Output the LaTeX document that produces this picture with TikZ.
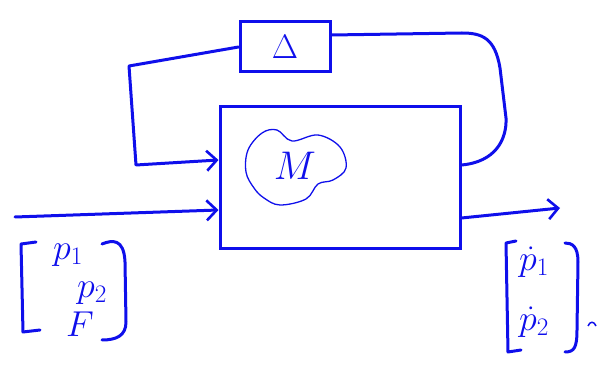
\documentclass[tikz,border=0pt]{standalone}
\usepackage{fix-cm}
\usetikzlibrary{arrows.meta}

\definecolor{ink}{RGB}{15,15,235}

\tikzset{
  wire/.style={ink, line width=3pt, line cap=round, line join=round},
  tip/.style={-{Straight Barb[length=10pt,width=20pt,line width=2.6pt]}},
  blk/.style={draw=ink, line width=3pt, inner sep=0pt},
  entry/.style={ink, inner sep=0pt, font=\fontsize{36}{38}\selectfont},
}

\begin{document}
\begin{tikzpicture}[x=1pt, y=-1pt]
  \useasboundingbox (0,0) rectangle (598,371);

  % plant and uncertainty blocks
  \node[blk, minimum width=240, minimum height=142] (sys) at (340,178) {};
  \node[blk, minimum width=90, minimum height=50, ink,
        font=\fontsize{34}{36}\selectfont] (delta) at (285,47) {$\Delta$};

  % model inside the plant
  \node[ink, font=\fontsize{40}{42}\selectfont] (m) at (295,166) {$M$};
  \draw[ink, line width=1.3pt] plot[smooth cycle, tension=0.6] coordinates
    {(248,150) (262,133) (277,130) (292,141) (318,135) (340,147) (346,168)
     (333,180) (318,184) (306,199) (280,205) (264,198) (254,188) (246,172)};

  % feedback loop through Delta
  \draw[wire] ([yshift=13pt]sys.east) .. controls (495,162) and (507,140) .. (506,118)
    -- (500,68) .. controls (495,38) and (482,33) .. (462,33) -- ([yshift=12pt]delta.east);
  \draw[wire, tip] (delta.west) -- (129,66) -- (136,165) -- ([yshift=18pt]sys.west);

  % inputs and outputs
  \coordinate (in) at (15,217);
  \coordinate (out) at (560,208);
  \draw[wire, tip] (in) -- ([yshift=-32pt]sys.west);
  \draw[wire, tip] ([yshift=-40pt]sys.east) -- (out);

  % input vector
  \node[entry] (p1) at (68,255) {$p_1$};
  \node[entry] (p2) at (92,293) {$p_2$};
  \node[entry] (f)  at (80,324) {$F$};
  \draw[wire] (36,242) -- (21,244) -- (23,332) -- (40,330);
  \draw[wire] (102,244) .. controls (112,240) and (124,238) .. (125,262)
    -- (126,322) .. controls (126,336) and (116,340) .. (102,340);

  % output vector
  \node[entry] (q1) at (534,262) {$\dot p_1$};
  \node[entry] (q2) at (534,322) {$\dot p_2$};
  \draw[wire] (516,241) -- (506,243) -- (508,352) -- (521,350);
  \draw[wire] (565,243) .. controls (572,243) and (578,246) .. (578,262)
    -- (577,330) .. controls (577,348) and (574,352) .. (565,352);
  \draw[ink, line width=1.5pt] (588,326) .. controls (590,321) and (594,321) .. (596,326);
\end{tikzpicture}
\end{document}
